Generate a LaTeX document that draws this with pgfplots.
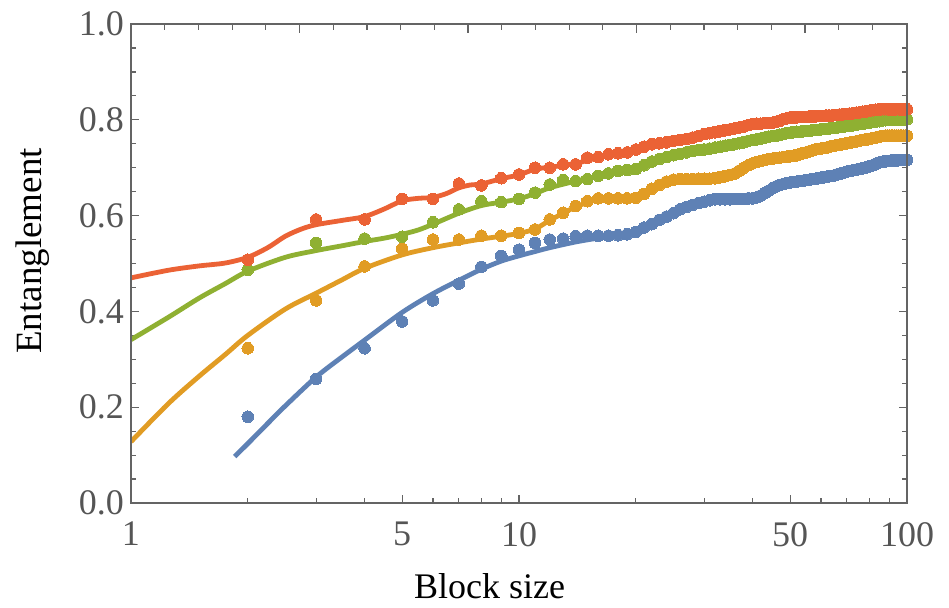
\documentclass[border=0pt]{standalone}
\usepackage{pgfplots}
\usepackage{pgfplotstable}
\pgfplotsset{compat=1.18}
\usepackage{fontspec}
\setmainfont{Liberation Serif}
\definecolor{mblue}{RGB}{94,129,181}
\definecolor{morange}{RGB}{225,156,36}
\definecolor{mgreen}{RGB}{143,176,50}
\definecolor{mred}{RGB}{235,98,53}
\definecolor{framegray}{RGB}{100,100,100}
\definecolor{tickgray}{RGB}{85,85,85}

\pgfplotstableread{
n blue orange green red
2 0.180 0.323 0.487 0.508
3 0.259 0.423 0.543 0.592
4 0.323 0.494 0.552 0.592
5 0.379 0.531 0.556 0.635
6 0.423 0.550 0.586 0.635
7 0.458 0.550 0.613 0.667
8 0.493 0.558 0.630 0.663
9 0.516 0.558 0.628 0.678
10 0.529 0.564 0.635 0.686
11 0.543 0.571 0.648 0.700
12 0.550 0.592 0.665 0.700
13 0.552 0.606 0.674 0.707
14 0.557 0.620 0.672 0.707
15 0.558 0.630 0.676 0.721
16 0.558 0.636 0.683 0.722
17 0.558 0.636 0.688 0.728
18 0.559 0.636 0.693 0.730
19 0.561 0.636 0.695 0.732
20 0.566 0.637 0.697 0.738
21 0.575 0.645 0.705 0.744
22 0.582 0.656 0.713 0.749
23 0.591 0.664 0.718 0.751
24 0.598 0.671 0.722 0.753
25 0.605 0.675 0.726 0.756
26 0.613 0.676 0.729 0.758
27 0.618 0.676 0.732 0.760
28 0.622 0.676 0.735 0.763
29 0.626 0.677 0.737 0.766
30 0.629 0.677 0.738 0.770
31 0.632 0.677 0.740 0.772
32 0.634 0.678 0.742 0.774
33 0.634 0.680 0.744 0.776
34 0.634 0.682 0.746 0.778
35 0.634 0.685 0.747 0.780
36 0.635 0.688 0.749 0.782
37 0.635 0.694 0.751 0.784
38 0.635 0.700 0.753 0.786
39 0.636 0.705 0.756 0.789
40 0.636 0.709 0.758 0.791
41 0.638 0.712 0.759 0.792
42 0.642 0.714 0.761 0.792
43 0.647 0.716 0.763 0.793
44 0.652 0.718 0.765 0.793
45 0.657 0.719 0.766 0.794
46 0.661 0.720 0.767 0.796
47 0.664 0.721 0.769 0.798
48 0.666 0.722 0.770 0.801
49 0.668 0.723 0.772 0.803
50 0.669 0.724 0.773 0.805
51 0.670 0.725 0.774 0.805
52 0.671 0.726 0.775 0.805
53 0.672 0.728 0.775 0.806
54 0.673 0.730 0.776 0.806
55 0.674 0.732 0.777 0.806
56 0.675 0.734 0.777 0.807
57 0.676 0.736 0.778 0.807
58 0.677 0.738 0.779 0.807
59 0.678 0.739 0.779 0.808
60 0.679 0.740 0.780 0.808
61 0.680 0.741 0.781 0.808
62 0.681 0.742 0.781 0.809
63 0.682 0.744 0.782 0.809
64 0.683 0.745 0.783 0.809
65 0.684 0.746 0.783 0.810
66 0.686 0.747 0.784 0.810
67 0.687 0.748 0.785 0.811
68 0.689 0.749 0.786 0.811
69 0.690 0.750 0.786 0.812
70 0.692 0.751 0.787 0.812
71 0.693 0.752 0.788 0.813
72 0.694 0.753 0.788 0.813
73 0.695 0.754 0.789 0.814
74 0.696 0.755 0.790 0.815
75 0.697 0.756 0.791 0.815
76 0.698 0.757 0.791 0.816
77 0.699 0.758 0.792 0.817
78 0.700 0.759 0.793 0.817
79 0.701 0.759 0.793 0.818
80 0.703 0.760 0.794 0.819
81 0.704 0.761 0.795 0.820
82 0.706 0.762 0.795 0.820
83 0.708 0.763 0.796 0.821
84 0.710 0.764 0.797 0.821
85 0.711 0.765 0.797 0.822
86 0.712 0.766 0.798 0.822
87 0.713 0.766 0.799 0.822
88 0.713 0.767 0.799 0.822
89 0.714 0.767 0.800 0.822
90 0.714 0.767 0.800 0.822
91 0.715 0.767 0.801 0.822
92 0.715 0.767 0.801 0.822
93 0.715 0.767 0.801 0.822
94 0.715 0.767 0.801 0.822
95 0.716 0.767 0.801 0.822
96 0.716 0.767 0.801 0.822
97 0.716 0.767 0.801 0.822
98 0.716 0.767 0.801 0.822
99 0.716 0.767 0.801 0.822
100 0.716 0.767 0.801 0.822
}\pts

\pgfplotstableread{
n y
1.85 0.097
2 0.124
2.25 0.166
2.5 0.203
3 0.263
3.5 0.305
4 0.340
5 0.398
6 0.437
7 0.465
8 0.488
9 0.505
10 0.516
11 0.525
12 0.533
14 0.545
16 0.553
18 0.559
20 0.566
22 0.580
25 0.604
30 0.629
35 0.634
40 0.636
45 0.656
50 0.668
60 0.679
70 0.692
80 0.702
90 0.713
100 0.715
}\fitblue

\pgfplotstableread{
n y
1 0.128
1.25 0.208
1.5 0.265
1.75 0.310
2 0.350
2.5 0.405
3 0.438
3.5 0.466
4 0.490
5 0.518
6 0.533
7 0.543
8 0.551
9 0.557
10 0.563
11 0.572
12 0.590
14 0.618
16 0.634
18 0.636
20 0.638
22 0.655
25 0.674
30 0.677
35 0.685
40 0.708
50 0.725
60 0.740
70 0.752
80 0.760
100 0.767
}\fitorange

\pgfplotstableread{
n y
1 0.341
1.25 0.388
1.5 0.428
1.75 0.458
2 0.484
2.5 0.513
3 0.527
3.5 0.537
4 0.546
4.5 0.553
5 0.561
5.5 0.570
6 0.582
7 0.605
8 0.621
9 0.628
10 0.635
11 0.646
12 0.658
14 0.672
16 0.682
18 0.692
20 0.699
25 0.726
30 0.738
40 0.757
50 0.772
70 0.787
100 0.801
}\fitgreen

\pgfplotstableread{
n y
1 0.470
1.25 0.486
1.5 0.495
1.75 0.501
2 0.513
2.25 0.533
2.5 0.557
2.75 0.572
3 0.581
3.5 0.590
4 0.598
4.5 0.614
5 0.631
5.5 0.636
6 0.638
6.5 0.646
7 0.658
7.5 0.664
8 0.666
9 0.677
10 0.685
11 0.697
12 0.701
14 0.709
16 0.721
18 0.729
20 0.737
25 0.754
30 0.768
40 0.789
50 0.802
70 0.812
100 0.822
}\fitred

\begin{document}
\begin{tikzpicture}
\useasboundingbox (-65.5pt,-52pt) rectangle (409pt,251.5pt);
\begin{axis}[
  at={(0,0)}, anchor=south west,
  scale only axis, width=388pt, height=239.5pt,
  xmode=log, xmin=1, xmax=100, ymin=0, ymax=1,
  xtick={1,5,10,50,100}, xticklabels={1,5,10,50,100},
  minor xtick={2,3,4,6,7,8,9,20,30,40,60,70,80,90},
  ytick={0,0.2,0.4,0.6,0.8,1.0},
  yticklabels={0.0,0.2,0.4,0.6,0.8,1.0},
  minor ytick={0.05,0.1,0.15,0.25,0.3,0.35,0.45,0.5,0.55,0.65,0.7,0.75,0.85,0.9,0.95},
  xtick pos=left, ytick pos=both,
  tick align=inside,
  major tick length=4pt, minor tick length=2.5pt,
  axis line style={framegray, line width=1pt},
  every tick/.style={framegray, line width=0.6pt},
  tick label style={font=\fontsize{18}{18}\selectfont, text=tickgray},
  xticklabel style={yshift=-6pt},
  /pgf/number format/assume math mode=true,
]
\addplot[mblue, line width=2.4pt, smooth] table[x=n, y=y] {\fitblue};
\addplot[only marks, mark=*, mark size=2.9pt, color=mblue, mark options={line width=0pt}] table[x=n, y=blue] {\pts};
\addplot[morange, line width=2.4pt, smooth] table[x=n, y=y] {\fitorange};
\addplot[only marks, mark=*, mark size=2.9pt, color=morange, mark options={line width=0pt}] table[x=n, y=orange] {\pts};
\addplot[mgreen, line width=2.4pt, smooth] table[x=n, y=y] {\fitgreen};
\addplot[only marks, mark=*, mark size=2.9pt, color=mgreen, mark options={line width=0pt}] table[x=n, y=green] {\pts};
\addplot[mred, line width=2.4pt, smooth] table[x=n, y=y] {\fitred};
\addplot[only marks, mark=*, mark size=2.9pt, color=mred, mark options={line width=0pt}] table[x=n, y=red] {\pts};
\end{axis}
\begin{axis}[
  at={(0,0)}, anchor=south west,
  scale only axis, width=388pt, height=239.5pt,
  xmin=0, xmax=4.60517, ymin=0, ymax=1,
  xtick={1,2,3,4}, xticklabels={},
  minor xtick={0.2,0.4,0.6,0.8,1.2,1.4,1.6,1.8,2.2,2.4,2.6,2.8,3.2,3.4,3.6,3.8,4.2,4.4,4.6},
  ytick=\empty,
  xtick pos=right,
  tick align=inside,
  major tick length=4.5pt, minor tick length=3pt,
  axis line style={framegray, line width=1pt},
  every tick/.style={framegray, line width=0.6pt},
]
\end{axis}
\node[anchor=base, font=\fontsize{18}{18}\selectfont] at (179.25pt,-47.5pt) {Block size};
\node[anchor=base, rotate=90, font=\fontsize{18.5}{18.5}\selectfont] at (-44.5pt,126pt) {Entanglement};
\end{tikzpicture}
\end{document}
